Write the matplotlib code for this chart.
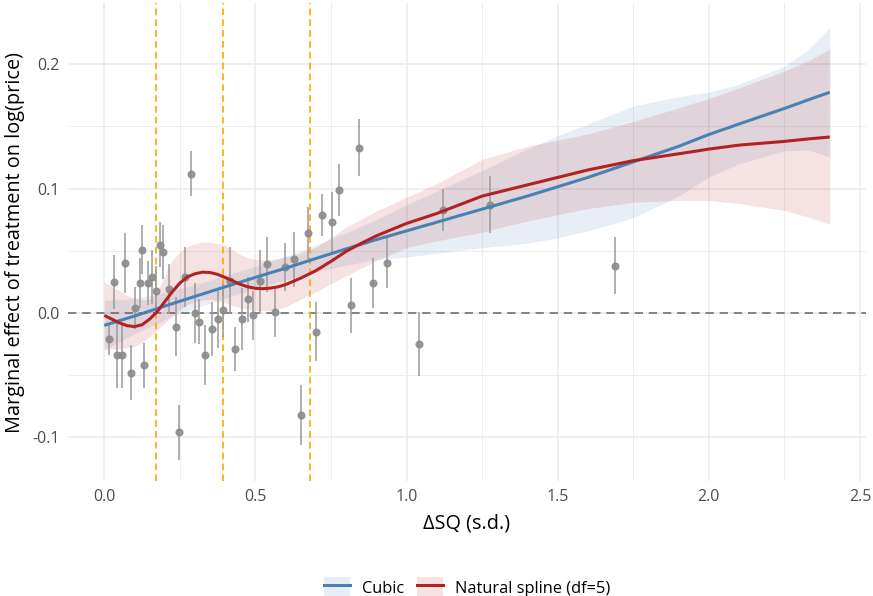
import numpy as np
import matplotlib
matplotlib.use('Agg')
import matplotlib.pyplot as plt
from matplotlib.patches import Patch
from matplotlib.lines import Line2D
from matplotlib.ticker import MultipleLocator, FormatStrFormatter

plt.rcParams['font.family'] = ['Open Sans', 'DejaVu Sans']
plt.rcParams['axes.unicode_minus'] = False

# binned estimates (x = change in SQ, y = effect, e = half-width of interval)
dsq = [0.016, 0.032, 0.041, 0.057, 0.068, 0.088, 0.100, 0.118, 0.124, 0.132,
       0.145, 0.158, 0.171, 0.185, 0.194, 0.213, 0.236, 0.246, 0.268, 0.287,
       0.300, 0.315, 0.332, 0.356, 0.375, 0.394, 0.416, 0.432, 0.455, 0.475,
       0.492, 0.516, 0.539, 0.564, 0.598, 0.629, 0.651, 0.674, 0.701, 0.720,
       0.754, 0.776, 0.817, 0.843, 0.889, 0.935, 1.040, 1.121, 1.277, 1.688]
effect = [-0.021, 0.025, -0.034, -0.034, 0.040, -0.048, 0.004, 0.024, 0.051, -0.042,
          0.024, 0.029, 0.018, 0.055, 0.049, 0.019, -0.011, -0.096, 0.029, 0.112,
          0.000, -0.007, -0.034, -0.013, -0.005, 0.002, 0.026, -0.029, -0.005, 0.011,
          -0.002, 0.026, 0.039, 0.001, 0.037, 0.043, -0.082, 0.064, -0.015, 0.079,
          0.073, 0.099, 0.006, 0.133, 0.024, 0.040, -0.025, 0.083, 0.087, 0.038]
err = [0.013, 0.022, 0.026, 0.026, 0.024, 0.022, 0.017, 0.020, 0.020, 0.018,
       0.018, 0.022, 0.020, 0.018, 0.022, 0.020, 0.024, 0.022, 0.024, 0.018,
       0.024, 0.018, 0.024, 0.022, 0.023, 0.021, 0.027, 0.018, 0.025, 0.018,
       0.020, 0.025, 0.022, 0.020, 0.019, 0.022, 0.024, 0.021, 0.024, 0.017,
       0.024, 0.021, 0.022, 0.023, 0.020, 0.020, 0.026, 0.017, 0.023, 0.023]

# spline knots
knots = [0.171, 0.394, 0.681]

# cubic fit
cubic_x = [0, 0.1, 0.2, 0.3, 0.4, 0.5, 0.6, 0.7, 0.8, 0.9, 1.0, 1.1, 1.25, 1.4,
           1.5, 1.6, 1.75, 1.9, 2.0, 2.1, 2.25, 2.33, 2.4]
cubic_fit = [-0.010, -0.0025, 0.0055, 0.0133, 0.021, 0.0286, 0.036, 0.0438,
             0.0515, 0.059, 0.066, 0.073, 0.0835, 0.094, 0.1015, 0.109, 0.1215,
             0.134, 0.1435, 0.152, 0.1645, 0.1715, 0.1775]
cubic_lo = [-0.030, -0.0165, -0.0055, 0.0038, 0.012, 0.0196, 0.0265, 0.033,
            0.0385, 0.043, 0.045, 0.048, 0.0525, 0.056, 0.0605, 0.066, 0.0765,
            0.094, 0.1095, 0.120, 0.1305, 0.131, 0.1255]
cubic_hi = [0.010, 0.0115, 0.0165, 0.0228, 0.030, 0.0376, 0.0455, 0.0546,
            0.0645, 0.075, 0.087, 0.098, 0.1145, 0.132, 0.1425, 0.152, 0.1665,
            0.174, 0.1775, 0.184, 0.1985, 0.212, 0.2295]

# natural spline fit
ns_x = [0, 0.025, 0.05, 0.075, 0.1, 0.125, 0.15, 0.175, 0.2, 0.225, 0.25, 0.275,
        0.3, 0.325, 0.35, 0.375, 0.4, 0.425, 0.45, 0.475, 0.5, 0.525, 0.55,
        0.575, 0.6, 0.65, 0.7, 0.75, 0.8, 0.85, 0.9, 1.0, 1.1, 1.25, 1.4, 1.5,
        1.6, 1.75, 1.9, 2.0, 2.1, 2.25, 2.33, 2.4]
ns_fit = [-0.002, -0.005, -0.008, -0.0102, -0.011, -0.0095, -0.005, 0.001,
          0.009, 0.017, 0.024, 0.029, 0.0315, 0.0328, 0.0325, 0.031, 0.0285,
          0.0258, 0.023, 0.021, 0.0198, 0.0195, 0.020, 0.021, 0.0228, 0.028,
          0.034, 0.0415, 0.0495, 0.056, 0.062, 0.072, 0.080, 0.094, 0.103,
          0.109, 0.115, 0.1225, 0.128, 0.1318, 0.135, 0.138, 0.140, 0.1415]
ns_lo = [-0.029, -0.029, -0.029, -0.028, -0.027, -0.024, -0.019, -0.0135,
         -0.008, -0.002, 0.003, 0.0065, 0.009, 0.0105, 0.011, 0.010, 0.008,
         0.006, 0.004, 0.003, 0.002, 0.0018, 0.002, 0.0033, 0.005, 0.011,
         0.017, 0.0235, 0.030, 0.036, 0.042, 0.0525, 0.058, 0.065, 0.074,
         0.079, 0.084, 0.089, 0.0905, 0.0906, 0.088, 0.0825, 0.077, 0.0713]
ns_hi = [0.025, 0.021, 0.018, 0.014, 0.012, 0.0105, 0.011, 0.0165, 0.030,
         0.0425, 0.049, 0.0535, 0.0555, 0.057, 0.057, 0.0558, 0.054, 0.0505,
         0.047, 0.0445, 0.043, 0.0425, 0.043, 0.0438, 0.045, 0.048, 0.053,
         0.0605, 0.069, 0.0755, 0.082, 0.093, 0.104, 0.1235, 0.134, 0.139,
         0.144, 0.154, 0.165, 0.1725, 0.181, 0.1945, 0.203, 0.212]

blue = '#4682B4'
red = '#B22222'

fig = plt.figure(figsize=(8.73, 5.96), dpi=100)
ax = fig.add_axes([68 / 873, 1 - 481 / 596, (866 - 68) / 873, (481 - 3.4) / 596])

ax.set_xlim(-0.12, 2.52)
ax.set_ylim(-0.1352, 0.249)
ax.xaxis.set_major_locator(MultipleLocator(0.5))
ax.xaxis.set_minor_locator(MultipleLocator(0.25))
ax.yaxis.set_major_locator(MultipleLocator(0.1))
ax.yaxis.set_minor_locator(MultipleLocator(0.05))
ax.xaxis.set_major_formatter(FormatStrFormatter('%.1f'))
ax.yaxis.set_major_formatter(FormatStrFormatter('%.1f'))
ax.grid(True, which='major', color='#EBEBEB', lw=1.1)
ax.grid(True, which='minor', color='#EBEBEB', lw=0.6)
ax.set_axisbelow(True)
for s in ax.spines.values():
    s.set_visible(False)
ax.tick_params(which='both', length=0, labelsize=11.5, labelcolor='#4D4D4D', pad=6)

ax.axhline(0, color='#707070', lw=1.2, ls=(0, (5, 3.5)), zorder=1)

ax.fill_between(cubic_x, cubic_lo, cubic_hi, color=blue, alpha=0.13, lw=0, zorder=2)
ax.fill_between(ns_x, ns_lo, ns_hi, color=red, alpha=0.13, lw=0, zorder=2)

for k in knots:
    ax.axvline(k, color='#FFA500', lw=1.2, ls=(0, (4, 2.5)), zorder=3)

ax.errorbar(dsq, effect, yerr=err, fmt='o', color='#8c8c8c', ecolor='#9e9e9e',
            elinewidth=1.3, ms=4.8, capsize=0, alpha=0.9, zorder=4)

ax.plot(cubic_x, cubic_fit, color=blue, lw=2.2, zorder=5, solid_capstyle='butt')
ax.plot(ns_x, ns_fit, color=red, lw=2.2, zorder=5, solid_capstyle='butt',
        solid_joinstyle='round')

ax.set_xlabel('ΔSQ (s.d.)', fontsize=14.3, labelpad=6)
ax.set_ylabel('Marginal effect of treatment on log(price)', fontsize=14.3, labelpad=5)

h1 = (Patch(facecolor=blue, alpha=0.13, lw=0), Line2D([], [], color=blue, lw=2.2))
h2 = (Patch(facecolor=red, alpha=0.13, lw=0), Line2D([], [], color=red, lw=2.2))
fig.legend([h1, h2], ['Cubic', 'Natural spline (df=5)'], loc='lower center',
           bbox_to_anchor=(0.535, -0.03), ncol=2, frameon=False, fontsize=11.8,
           handlelength=1.6, handleheight=1.7, columnspacing=0.8, handletextpad=0.7)

fig.savefig('out.png', dpi=100)
